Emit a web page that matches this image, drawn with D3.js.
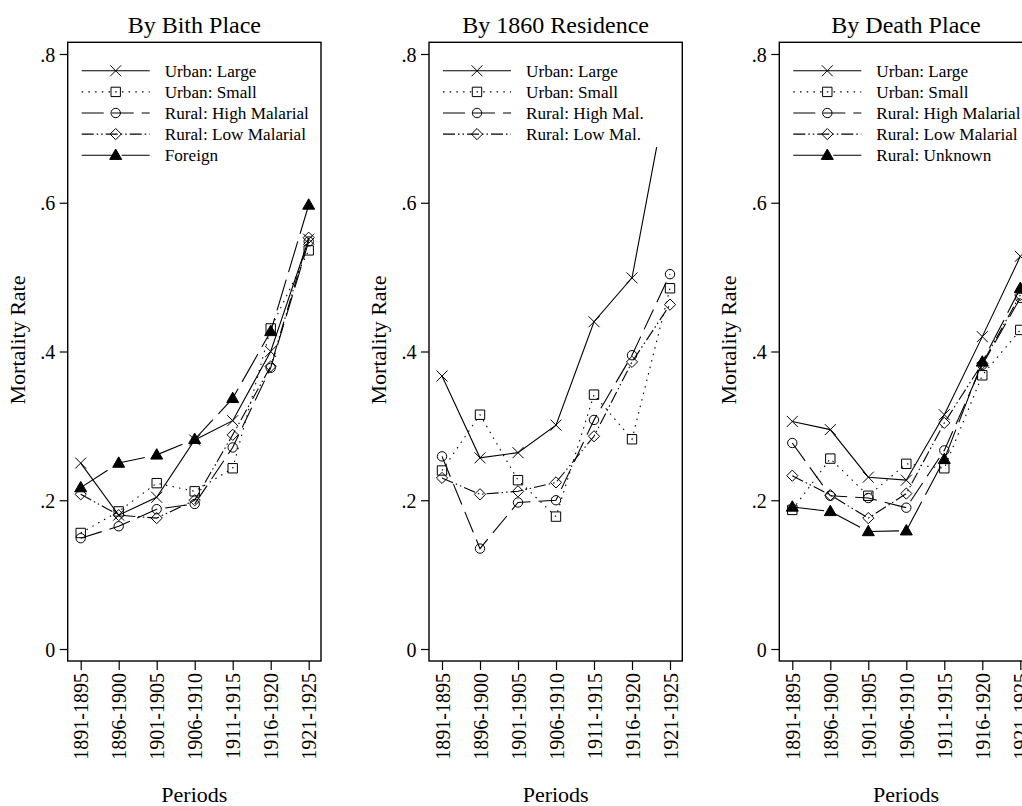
<!DOCTYPE html>
<html>
<head>
<meta charset="utf-8">
<script src="https://cdn.jsdelivr.net/npm/d3@7"></script>
<style>
  body { margin: 0; background: #fff; }
  svg { display: block; font-family: 'Liberation Serif', 'Times New Roman', serif; }
  .axis text { font-family: 'Liberation Serif', 'Times New Roman', serif; font-size: 20px; fill: #000; }
  .axis line { stroke: #000; stroke-width: 1.2; }
  .axis path { display: none; }
  .title { font-size: 24px; }
  .axis-title { font-size: 22px; }
  .legend text { font-size: 17.2px; }
</style>
</head>
<body>
<svg id="chart" width="1022" height="806"></svg>
<script>
const periods = ['1891-1895', '1896-1900', '1901-1905', '1906-1910', '1911-1915', '1916-1920', '1921-1925']
const yTicks = [0, 0.2, 0.4, 0.6, 0.8]

// By birth place
const birthUrbanLarge = [0.250, 0.180, 0.204, 0.281, 0.307, 0.400, 0.551]
const birthUrbanSmall = [0.156, 0.185, 0.223, 0.212, 0.243, 0.431, 0.536]
const birthRuralHigh = [0.149, 0.165, 0.188, 0.195, 0.271, 0.378, 0.548]
const birthRuralLow = [0.208, 0.180, 0.176, 0.200, 0.288, 0.380, 0.553]
const birthForeign = [0.217, 0.250, 0.261, 0.282, 0.337, 0.427, 0.597]

// By 1860 residence
const resUrbanLarge = [0.367, 0.257, 0.264, 0.301, 0.440, 0.499, 0.770]
const resUrbanSmall = [0.240, 0.315, 0.227, 0.178, 0.342, 0.282, 0.485]
const resRuralHigh = [0.259, 0.135, 0.197, 0.200, 0.308, 0.395, 0.504]
const resRuralLow = [0.230, 0.208, 0.212, 0.224, 0.286, 0.386, 0.463]

// By death place
const deathUrbanLarge = [0.306, 0.295, 0.231, 0.227, 0.315, 0.420, 0.528]
const deathUrbanSmall = [0.187, 0.256, 0.206, 0.249, 0.243, 0.368, 0.429]
const deathRuralHigh = [0.277, 0.206, 0.203, 0.190, 0.267, 0.382, 0.472]
const deathRuralLow = [0.233, 0.207, 0.176, 0.209, 0.304, 0.384, 0.476]
const deathRuralUnknown = [0.191, 0.185, 0.158, 0.159, 0.255, 0.386, 0.485]

const styles = {
  urbanLarge: { dash: null, marker: 'x' },
  urbanSmall: { dash: '1.5,5.2', marker: 'square' },
  ruralHigh: { dash: '22,8', marker: 'circle' },
  ruralLow: { dash: '12,3,1.5,3,1.5,3', marker: 'diamond' },
  other: { dash: '32,8', marker: 'triangle' }
}

const panels = [
  {
    title: 'By Bith Place',
    left: 67.7,
    series: [
      { label: 'Urban: Large', values: birthUrbanLarge, style: 'urbanLarge' },
      { label: 'Urban: Small', values: birthUrbanSmall, style: 'urbanSmall' },
      { label: 'Rural: High Malarial', values: birthRuralHigh, style: 'ruralHigh' },
      { label: 'Rural: Low Malarial', values: birthRuralLow, style: 'ruralLow' },
      { label: 'Foreign', values: birthForeign, style: 'other' }
    ]
  },
  {
    title: 'By 1860 Residence',
    left: 429,
    series: [
      { label: 'Urban: Large', values: resUrbanLarge, style: 'urbanLarge' },
      { label: 'Urban: Small', values: resUrbanSmall, style: 'urbanSmall' },
      { label: 'Rural: High Mal.', values: resRuralHigh, style: 'ruralHigh' },
      { label: 'Rural: Low Mal.', values: resRuralLow, style: 'ruralLow' }
    ]
  },
  {
    title: 'By Death Place',
    left: 779.3,
    series: [
      { label: 'Urban: Large', values: deathUrbanLarge, style: 'urbanLarge' },
      { label: 'Urban: Small', values: deathUrbanSmall, style: 'urbanSmall' },
      { label: 'Rural: High Malarial', values: deathRuralHigh, style: 'ruralHigh' },
      { label: 'Rural: Low Malarial', values: deathRuralLow, style: 'ruralLow' },
      { label: 'Rural: Unknown', values: deathRuralUnknown, style: 'other' }
    ]
  }
]

const plotTop = 42.3
const width = 253.3
const height = 618.7

const svg = d3.select('#chart')

const x = d3.scalePoint().domain(periods).range([13, 241])
const y = d3.scaleLinear().domain([0, 0.8]).range([606.7, 11.7])

const markerPath = type => {
  const p = d3.path()
  if (type === 'x') {
    const s = 5.5
    p.moveTo(-s, -s); p.lineTo(s, s)
    p.moveTo(-s, s); p.lineTo(s, -s)
  } else if (type === 'square') {
    p.rect(-4.7, -4.7, 9.4, 9.4)
  } else if (type === 'circle') {
    p.arc(0, 0, 4.7, 0, Math.PI * 2)
  } else if (type === 'diamond') {
    p.moveTo(0, -5.6); p.lineTo(5.6, 0); p.lineTo(0, 5.6); p.lineTo(-5.6, 0); p.closePath()
  } else {
    p.moveTo(0, -6.2); p.lineTo(6, 4.2); p.lineTo(-6, 4.2); p.closePath()
  }
  return p.toString()
}

const drawMarker = (sel, type) => {
  sel.append('path')
    .attr('d', markerPath(type))
    .attr('fill', type === 'triangle' ? '#000' : 'none')
    .attr('stroke', '#000')
    .attr('stroke-width', 1)
}

panels.forEach(panel => {
  const g = svg.append('g').attr('transform', `translate(${panel.left},${plotTop})`)

  // axes
  g.append('g')
    .attr('class', 'axis')
    .call(d3.axisLeft(y).tickValues(yTicks).tickSize(8).tickPadding(4.5)
      .tickFormat(d => d === 0 ? '0' : d3.format('.1f')(d).replace(/^0/, '')))
    .selectAll('text').attr('dy', '0.36em')

  const ax = g.append('g')
    .attr('class', 'axis')
    .attr('transform', `translate(0,${height})`)
    .call(d3.axisBottom(x).tickSize(9))
  ax.selectAll('text')
    .attr('transform', 'rotate(-90)')
    .attr('text-anchor', 'end')
    .attr('x', -12)
    .attr('y', 0)
    .attr('dy', '0.35em')

  // series
  const line = d3.line().x((d, i) => x(periods[i])).y(d => y(d))
  panel.series.forEach(s => {
    const st = styles[s.style]
    g.append('path')
      .attr('d', line(s.values))
      .attr('fill', 'none')
      .attr('stroke', '#000')
      .attr('stroke-width', 1.1)
      .attr('stroke-dasharray', st.dash)
    s.values.forEach((v, i) => {
      const m = g.append('g').attr('transform', `translate(${x(periods[i])},${y(v)})`)
      drawMarker(m, st.marker)
    })
  })

  // legend
  const legend = g.append('g').attr('class', 'legend')
  legend.append('rect')
    .attr('x', 1).attr('y', 1)
    .attr('width', width - 2)
    .attr('height', 28.5 + 21.1 * (panel.series.length - 1) + 12)
    .attr('fill', '#fff')
  panel.series.forEach((s, i) => {
    const st = styles[s.style]
    const ry = 28.5 + 21.1 * i
    legend.append('line')
      .attr('x1', 14).attr('x2', 82)
      .attr('y1', ry).attr('y2', ry)
      .attr('stroke', '#000')
      .attr('stroke-width', 1.1)
      .attr('stroke-dasharray', st.dash)
    drawMarker(legend.append('g').attr('transform', `translate(48,${ry})`), st.marker)
    legend.append('text')
      .attr('x', 97).attr('y', ry)
      .attr('dy', '0.35em')
      .text(s.label)
  })

  // frame
  g.append('rect')
    .attr('width', width).attr('height', height)
    .attr('fill', 'none')
    .attr('stroke', '#000')
    .attr('stroke-width', 1.4)

  // titles
  g.append('text')
    .attr('class', 'title')
    .attr('x', width / 2).attr('y', 33 - plotTop)
    .attr('text-anchor', 'middle')
    .text(panel.title)

  g.append('text')
    .attr('class', 'axis-title')
    .attr('transform', `translate(-43,${340 - plotTop}) rotate(-90)`)
    .attr('text-anchor', 'middle')
    .text('Mortality Rate')

  g.append('text')
    .attr('class', 'axis-title')
    .attr('x', width / 2).attr('y', 802 - plotTop)
    .attr('text-anchor', 'middle')
    .text('Periods')
})
</script>
</body>
</html>
